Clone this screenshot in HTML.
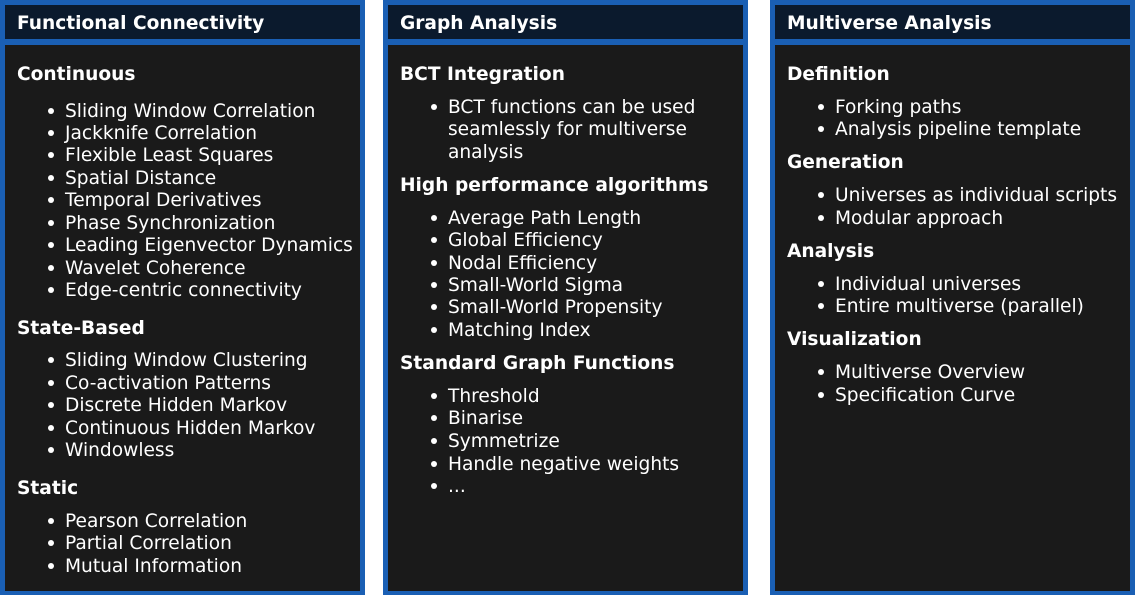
<!DOCTYPE html>
<html><head><meta charset="utf-8"><style>
html,body{margin:0;padding:0;background:#fff;width:1135px;height:595px;overflow:hidden;}
body{position:relative;font-family:"DejaVu Sans","Liberation Sans",sans-serif;color:#fff;}
.p{position:absolute;top:0;width:355px;height:586px;border:5px solid #1a5fb4;background:#1a1a1a;box-sizing:content-box;}
.h{position:absolute;left:0;top:0;width:355px;height:34px;background:#0b1a2d;border-bottom:6px solid #1a5fb4;}
.t{position:absolute;white-space:nowrap;font-size:18.6px;line-height:22px;}
.b{font-weight:bold;}
.d{position:absolute;width:6px;height:6px;border-radius:50%;background:#fff;}
</style></head><body>
<div class="p" style="left:0"><div class="h"></div></div>
<div class="p" style="left:383px"><div class="h"></div></div>
<div class="p" style="left:770px"><div class="h"></div></div>
<div id="c"></div>
<script>
var data=[
 [17,65,51,[["Functional Connectivity",22,1],["Continuous",73,1],["Sliding Window Correlation",110],["Jackknife Correlation",132],["Flexible Least Squares",154],["Spatial Distance",177],["Temporal Derivatives",199],["Phase Synchronization",222],["Leading Eigenvector Dynamics",244],["Wavelet Coherence",267],["Edge-centric connectivity",289],["State-Based",327,1],["Sliding Window Clustering",359],["Co-activation Patterns",382],["Discrete Hidden Markov",404],["Continuous Hidden Markov",427],["Windowless",449],["Static",487,1],["Pearson Correlation",520],["Partial Correlation",542],["Mutual Information",565]]],
 [400,448,434,[["Graph Analysis",22,1],["BCT Integration",73,1],["BCT functions can be used",106],["seamlessly for multiverse",128,2],["analysis",151,2],["High performance algorithms",184,1],["Average Path Length",217],["Global Efficiency",239],["Nodal Efficiency",262],["Small-World Sigma",284],["Small-World Propensity",306],["Matching Index",329],["Standard Graph Functions",362,1],["Threshold",395],["Binarise",417],["Symmetrize",440],["Handle negative weights",463],["...",485]]],
 [787,835,821,[["Multiverse Analysis",22,1],["Definition",73,1],["Forking paths",106],["Analysis pipeline template",128],["Generation",161,1],["Universes as individual scripts",194],["Modular approach",217],["Analysis",250,1],["Individual universes",283],["Entire multiverse (parallel)",305],["Visualization",338,1],["Multiverse Overview",371],["Specification Curve",394]]]
];
var h='';
data.forEach(function(p){p[3].forEach(function(l){
 var y=l[1]-9;
 if(l[2]==1){h+='<div class="t b" style="left:'+p[0]+'px;top:'+y+'px">'+l[0]+'</div>';}
 else{h+='<div class="t" style="left:'+p[1]+'px;top:'+y+'px">'+l[0]+'</div>';
  if(l[2]!=2)h+='<div class="d" style="left:'+(p[2]-3)+'px;top:'+(l[1]-2)+'px"></div>';}
});});
document.getElementById('c').innerHTML=h;
</script>
</body></html>
